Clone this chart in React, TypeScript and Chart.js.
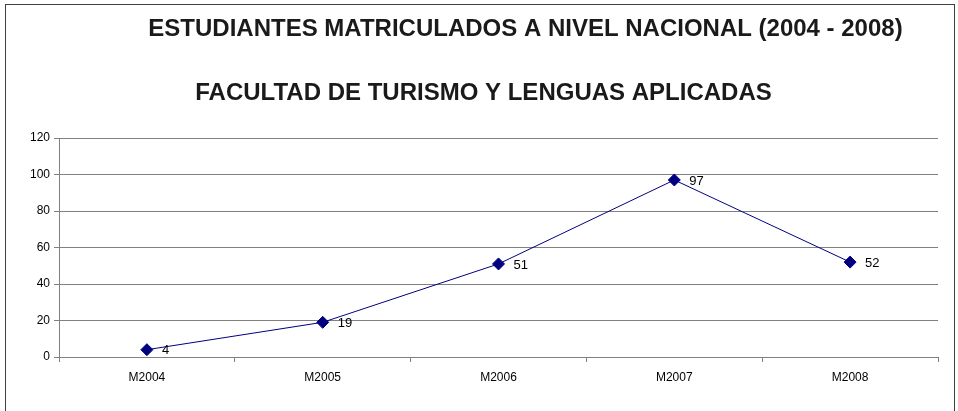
import React, { useEffect, useRef } from "react";
import { Chart, registerables } from "chart.js";

Chart.register(...registerables);

const TITLE_1 = "ESTUDIANTES MATRICULADOS A NIVEL NACIONAL (2004 - 2008)";
const TITLE_2 = "FACULTAD DE TURISMO Y LENGUAS APLICADAS";
const categories = ["M2004", "M2005", "M2006", "M2007", "M2008"];
const students = [4, 19, 51, 97, 52];
const yTicks = [0, 20, 40, 60, 80, 100, 120];

const FONT = "'Liberation Sans', Arial, Helvetica, sans-serif";

const titlePlugin = {
  id: "customTitles",
  afterDraw(chart: any) {
    const { ctx, chartArea } = chart;
    const mid = (chartArea.left + chartArea.right) / 2;
    ctx.save();
    ctx.fillStyle = "#1a1a1a";
    ctx.font = `bold 24px ${FONT}`;
    ctx.textAlign = "center";
    ctx.textBaseline = "alphabetic";
    ctx.fillText(TITLE_1, mid + 27, 36);
    ctx.fillText(TITLE_2, mid - 15, 100);
    ctx.restore();
  },
};

const valueLabelPlugin = {
  id: "valueLabels",
  afterDatasetsDraw(chart: any) {
    const { ctx } = chart;
    const meta = chart.getDatasetMeta(0);
    const data = chart.data.datasets[0].data;
    ctx.save();
    ctx.fillStyle = "#000000";
    ctx.font = `13px ${FONT}`;
    ctx.textAlign = "left";
    ctx.textBaseline = "middle";
    meta.data.forEach((pt: any, i: number) => {
      ctx.fillText(String(data[i]), pt.x + 15, pt.y + 1);
    });
    ctx.restore();
  },
};

export default function App() {
  const canvasRef = useRef<HTMLCanvasElement | null>(null);

  useEffect(() => {
    const canvas = canvasRef.current;
    if (!canvas) return;
    const chart = new Chart(canvas, {
      type: "line",
      data: {
        labels: categories,
        datasets: [
          {
            label: "Estudiantes",
            data: students,
            borderColor: "#000080",
            backgroundColor: "#000080",
            borderWidth: 1,
            pointStyle: "rectRot",
            pointRadius: 6,
            pointHoverRadius: 6,
            pointBackgroundColor: "#000080",
            pointBorderColor: "#000080",
            pointBorderWidth: 1,
            tension: 0,
            fill: false,
          },
        ],
      },
      options: {
        responsive: false,
        animation: false,
        events: [],
        layout: { padding: { top: 138, right: 20, bottom: 0, left: 0 } },
        plugins: {
          legend: { display: false },
          title: { display: false },
          tooltip: { enabled: false },
        },
        scales: {
          x: {
            type: "category",
            offset: true,
            grid: {
              display: true,
              offset: true,
              drawOnChartArea: false,
              drawTicks: true,
              tickLength: 5,
              color: "#808080",
            },
            border: { display: true, color: "#808080", width: 1 },
            ticks: {
              color: "#000000",
              font: { family: FONT, size: 12 },
              padding: 8,
              maxRotation: 0,
            },
            afterFit(scale: any) {
              scale.height = 54;
            },
          },
          y: {
            min: 0,
            max: 120,
            afterBuildTicks(scale: any) {
              scale.ticks = yTicks.map((v) => ({ value: v }));
            },
            grid: {
              display: true,
              color: "#808080",
              drawTicks: true,
              tickLength: 5,
            },
            border: { display: true, color: "#808080", width: 1 },
            ticks: {
              color: "#000000",
              font: { family: FONT, size: 12 },
              padding: 4,
            },
            afterFit(scale: any) {
              scale.width = 59;
            },
          },
        },
      },
      plugins: [titlePlugin, valueLabelPlugin],
    });
    return () => chart.destroy();
  }, []);

  return (
    <div style={{ position: "fixed", left: 0, top: 0, width: 958, height: 411, background: "#ffffff", overflow: "hidden" }}>
      <div
        style={{
          position: "absolute",
          left: 5,
          top: 4,
          width: 950,
          height: 420,
          borderLeft: "1px solid #404040",
          borderTop: "1px solid #404040",
          borderRight: "1px solid #404040",
          boxSizing: "border-box",
        }}
      />
      <canvas ref={canvasRef} width={958} height={411} style={{ position: "absolute", left: 0, top: 0, width: 958, height: 411 }} />
    </div>
  );
}
